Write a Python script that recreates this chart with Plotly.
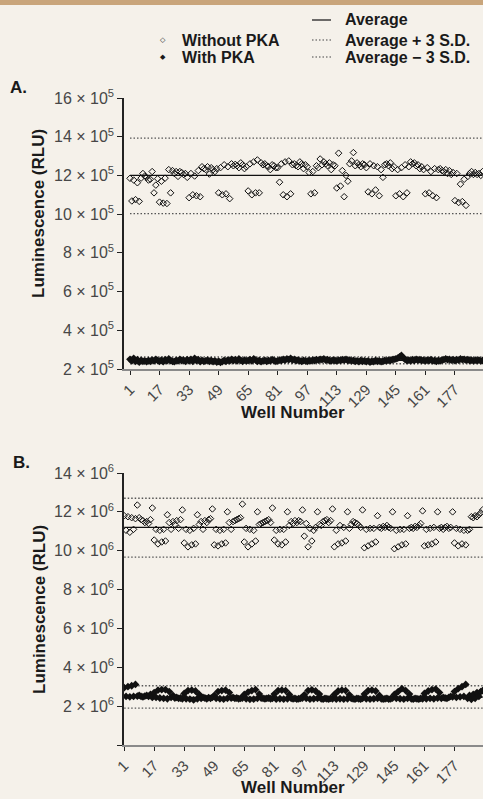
import plotly.graph_objects as go

W, H = 483, 799

# ---------------- data ----------------
wells = list(range(1, 193))
tick_wells = [1, 17, 33, 49, 65, 81, 97, 113, 129, 145, 161, 177]

# Panel A (units of 1e5 RLU)
a_without = [
    11.85, 10.68, 11.76, 10.75, 11.62, 10.66, 11.86, 12.10, 11.97, 11.90, 11.76, 11.80, 12.20, 11.10, 11.50, 11.83,
    10.62, 11.70, 10.57, 11.86, 10.55, 12.30, 11.10, 12.25, 12.10, 12.20, 11.95, 12.20, 12.15, 12.05, 12.10, 11.90,
    10.85, 12.10, 11.00, 11.97, 10.95, 12.25, 10.90, 12.45, 12.35, 12.30, 12.45, 12.07, 12.40, 12.30, 12.20, 12.35,
    11.10, 12.40, 11.00, 12.55, 11.05, 12.45, 10.80, 12.60, 12.50, 12.57, 12.50, 12.40, 12.65, 12.55, 12.35, 12.45,
    11.20, 12.60, 11.00, 12.70, 11.10, 12.80, 11.10, 12.65, 12.55, 12.60, 12.50, 12.45, 12.30, 12.55, 12.50, 12.40,
    12.40, 11.65, 12.60, 11.00, 12.70, 10.90, 12.75, 11.05, 12.55, 12.60, 12.50, 12.45, 12.70, 12.60, 12.35, 12.55,
    12.45, 12.15, 11.05, 12.20, 11.10, 12.50, 12.40, 12.85, 12.55, 12.70, 12.60, 12.50, 12.65, 12.30, 12.55, 12.50,
    11.35, 13.15, 11.45, 12.25, 10.90, 12.00, 11.70, 12.60, 12.75, 13.18, 12.50, 12.65, 12.55, 12.45, 12.60, 12.55,
    12.40, 11.15, 12.60, 11.05, 12.50, 11.25, 12.45, 10.95, 12.30, 11.90, 12.55, 12.60, 12.50, 12.65, 12.35, 12.45,
    10.95, 12.30, 11.05, 12.40, 10.90, 12.55, 11.10, 12.45, 12.70, 12.60, 12.65, 12.50, 12.55, 12.35, 12.45, 12.30,
    11.05, 12.40, 11.10, 12.20, 10.95, 12.35, 10.85, 12.30, 12.35, 12.25, 12.20, 12.30, 12.10, 12.25, 12.05, 12.15,
    10.70, 12.10, 10.60, 11.55, 10.65, 11.80, 10.45, 11.95, 12.10, 12.20, 12.05, 12.15, 12.05, 12.10, 12.00, 12.20,
]
a_with = [
    2.50, 2.42, 2.55, 2.40, 2.48, 2.36, 2.45, 2.40, 2.42, 2.38, 2.44, 2.40, 2.46, 2.42, 2.50, 2.44,
    2.40, 2.46, 2.38, 2.48, 2.42, 2.52, 2.44, 2.40, 2.38, 2.45, 2.42, 2.50, 2.44, 2.46, 2.40, 2.48,
    2.42, 2.50, 2.40, 2.55, 2.44, 2.48, 2.38, 2.45, 2.40, 2.42, 2.46, 2.40, 2.44, 2.38, 2.42, 2.36,
    2.40, 2.34, 2.38, 2.44, 2.40, 2.46, 2.42, 2.50, 2.44, 2.48, 2.42, 2.52, 2.45, 2.40, 2.46, 2.42,
    2.44, 2.48, 2.42, 2.52, 2.46, 2.40, 2.44, 2.38, 2.42, 2.45, 2.40, 2.44, 2.42, 2.48, 2.44, 2.40,
    2.42, 2.46, 2.44, 2.50, 2.46, 2.52, 2.48, 2.55, 2.46, 2.50, 2.44, 2.46, 2.42, 2.40, 2.44, 2.42,
    2.40, 2.44, 2.42, 2.46, 2.44, 2.48, 2.46, 2.50, 2.48, 2.52, 2.46, 2.48, 2.44, 2.42, 2.46, 2.44,
    2.42, 2.46, 2.44, 2.48, 2.46, 2.50, 2.44, 2.46, 2.42, 2.44, 2.40, 2.42, 2.38, 2.44, 2.40, 2.42,
    2.38, 2.42, 2.36, 2.40, 2.38, 2.44, 2.40, 2.42, 2.38, 2.40, 2.44, 2.42, 2.46, 2.44, 2.48, 2.50,
    2.52, 2.56, 2.62, 2.70, 2.58, 2.50, 2.44, 2.46, 2.42, 2.48, 2.44, 2.50, 2.46, 2.48, 2.44, 2.46,
    2.42, 2.46, 2.44, 2.48, 2.42, 2.44, 2.40, 2.44, 2.42, 2.46, 2.48, 2.52, 2.48, 2.50, 2.46, 2.48,
    2.44, 2.48, 2.46, 2.52, 2.48, 2.50, 2.46, 2.48, 2.44, 2.46, 2.42, 2.46, 2.44, 2.46, 2.42, 2.44,
]
a_without_stats = [12.0, 13.93, 10.03]   # average, +3 SD, -3 SD
a_with_stats = [2.45, 2.63, 2.27]

# Panel B (units of 1e6 RLU)
b_without = [
    11.80, 11.05, 11.75, 10.95, 11.70, 11.10, 11.65, 12.35, 11.70, 11.60, 11.55, 11.45, 11.50, 11.40, 11.60, 12.20,
    10.55, 11.10, 10.35, 11.05, 10.45, 11.10, 10.50, 11.85, 11.45, 11.10, 11.50, 11.35, 11.55, 11.15, 11.60, 12.10,
    10.40, 11.10, 10.20, 11.05, 10.30, 11.15, 10.35, 11.85, 11.35, 11.50, 11.10, 11.55, 11.45, 11.60, 11.65, 12.15,
    10.30, 11.10, 10.25, 11.05, 10.35, 11.10, 10.40, 12.00, 11.45, 11.10, 11.50, 11.55, 11.60, 11.65, 11.70, 12.40,
    10.45, 11.15, 10.20, 11.10, 10.35, 11.05, 10.50, 12.00, 11.35, 11.40, 11.45, 11.50, 11.55, 11.60, 11.45, 12.20,
    10.55, 11.05, 10.35, 11.10, 10.30, 11.10, 10.45, 12.00, 11.30, 11.50, 11.40, 11.55, 11.45, 11.55, 11.50, 12.10,
    10.75, 11.40, 10.20, 11.15, 10.50, 11.05, 11.20, 12.00, 11.35, 11.30, 11.50, 11.55, 11.60, 11.45, 11.55, 12.15,
    10.20, 11.05, 10.35, 11.30, 10.40, 11.20, 10.50, 12.00, 11.15, 11.35, 11.50, 11.45, 11.40, 11.30, 11.20, 12.10,
    10.15, 11.10, 10.25, 11.15, 10.35, 11.15, 10.45, 11.80, 11.20, 11.15, 11.25, 11.20, 11.30, 11.20, 11.15, 12.00,
    10.10, 11.05, 10.20, 11.10, 10.30, 11.10, 10.35, 11.80, 11.15, 11.20, 11.15, 11.25, 11.20, 11.30, 11.40, 12.05,
    10.25, 11.10, 10.30, 11.15, 10.35, 11.20, 10.45, 12.00, 11.15, 11.20, 11.10, 11.20, 11.25, 11.15, 11.20, 12.00,
    10.40, 11.15, 10.25, 11.10, 10.35, 11.05, 10.30, 11.05, 11.10, 11.75, 11.70, 11.80, 11.75, 11.85, 11.95, 12.10,
]
b_with = [
    2.95, 2.50, 3.00, 2.48, 3.05, 2.50, 3.12, 2.52, 2.55, 2.50, 2.48, 2.52, 2.55, 2.50, 2.60, 2.45,
    2.70, 2.45, 2.82, 2.42, 2.85, 2.40, 2.85, 2.38, 2.75, 2.45, 2.55, 2.42, 2.45, 2.40, 2.42, 2.38,
    2.65, 2.38, 2.80, 2.36, 2.82, 2.32, 2.78, 2.38, 2.60, 2.40, 2.45, 2.42, 2.38, 2.44, 2.40, 2.45,
    2.55, 2.40, 2.75, 2.38, 2.80, 2.36, 2.82, 2.40, 2.70, 2.42, 2.45, 2.40, 2.42, 2.38, 2.40, 2.42,
    2.60, 2.38, 2.72, 2.35, 2.80, 2.36, 2.85, 2.40, 2.62, 2.42, 2.40, 2.38, 2.40, 2.42, 2.38, 2.40,
    2.62, 2.36, 2.80, 2.38, 2.82, 2.36, 2.80, 2.38, 2.60, 2.40, 2.38, 2.40, 2.36, 2.38, 2.40, 2.42,
    2.58, 2.40, 2.80, 2.36, 2.84, 2.38, 2.78, 2.40, 2.62, 2.38, 2.36, 2.40, 2.38, 2.36, 2.40, 2.38,
    2.60, 2.36, 2.78, 2.38, 2.82, 2.36, 2.80, 2.38, 2.58, 2.40, 2.38, 2.36, 2.40, 2.38, 2.36, 2.40,
    2.62, 2.38, 2.80, 2.36, 2.82, 2.38, 2.78, 2.40, 2.55, 2.38, 2.36, 2.38, 2.40, 2.36, 2.38, 2.42,
    2.60, 2.40, 2.75, 2.38, 2.90, 2.36, 2.80, 2.40, 2.62, 2.38, 2.36, 2.40, 2.38, 2.36, 2.40, 2.38,
    2.65, 2.38, 2.78, 2.40, 2.85, 2.38, 2.88, 2.42, 2.70, 2.40, 2.45, 2.42, 2.40, 2.45, 2.50, 2.48,
    2.75, 2.45, 2.90, 2.48, 3.00, 2.50, 3.12, 2.40, 2.55, 2.35, 2.60, 2.40, 2.70, 2.50, 2.75, 2.80,
]
b_without_stats = [11.2, 12.7, 9.67]
b_with_stats = [2.45, 3.05, 1.9]

a_ticks = [2, 4, 6, 8, 10, 12, 14, 16]
b_ticks = [0, 2, 4, 6, 8, 10, 12, 14]

# ---------------- styling helpers ----------------
BG = "#f5f1ea"
YTICKFONT = dict(family="Liberation Sans, Arial, sans-serif", size=16, color="#474747")
XTICKFONT = dict(family="Liberation Sans, Arial, sans-serif", size=15, color="#474747")
BOLDF = "Liberation Sans, Arial, sans-serif"
DOT = "1.5px,2px"


def px(x):
    return x / W


def py(y):
    return 1 - y / H


fig = go.Figure()


def add_panel(xa, ya, without, with_, s_without, s_with, scale):
    yw = [v * scale for v in without]
    yp = [v * scale for v in with_]
    for stats in (s_without, s_with):
        avg, hi, lo = [v * scale for v in stats]
        xs = [wells[0], wells[-1]]
        fig.add_trace(go.Scatter(x=xs, y=[hi, hi], mode="lines", xaxis=xa, yaxis=ya,
                                 line=dict(color="#555", width=1.3, dash=DOT), showlegend=False, hoverinfo="skip"))
        fig.add_trace(go.Scatter(x=xs, y=[lo, lo], mode="lines", xaxis=xa, yaxis=ya,
                                 line=dict(color="#555", width=1.3, dash=DOT), showlegend=False, hoverinfo="skip"))
        fig.add_trace(go.Scatter(x=xs, y=[avg, avg], mode="lines", xaxis=xa, yaxis=ya,
                                 line=dict(color="#111", width=1.3), showlegend=False, hoverinfo="skip"))
    fig.add_trace(go.Scatter(x=wells, y=yw, mode="markers", xaxis=xa, yaxis=ya, name="Without PKA",
                             marker=dict(symbol="diamond-open", size=5, color="#111", line=dict(width=1, color="#111")),
                             showlegend=False))
    fig.add_trace(go.Scatter(x=wells, y=yp, mode="markers", xaxis=xa, yaxis=ya, name="With PKA",
                             marker=dict(symbol="diamond", size=6, color="#111"),
                             showlegend=False))


add_panel("x", "y", a_without, a_with, a_without_stats, a_with_stats, 1e5)
add_panel("x2", "y2", b_without, b_with, b_without_stats, b_with_stats, 1e6)

xaxis_common = dict(
    tickmode="array", tickvals=tick_wells, ticktext=[str(t) for t in tick_wells],
    tickangle=-45, tickfont=XTICKFONT, ticks="outside", ticklen=4, tickcolor="#222", tickwidth=1,
    showline=True, linecolor="#8a8a8a", linewidth=2, showgrid=False, zeroline=False, automargin=False,
)
yaxis_common = dict(
    ticks="outside", ticklen=5, tickcolor="#222", tickwidth=1, tickfont=YTICKFONT,
    showline=True, linecolor="#222", linewidth=1.5, showgrid=False, zeroline=False, automargin=False,
)

fig.update_layout(
    width=W, height=H, autosize=False, paper_bgcolor=BG, plot_bgcolor=BG,
    margin=dict(l=0, r=0, t=0, b=0, pad=0, autoexpand=False), showlegend=False,
    xaxis=dict(domain=[px(124), 1], range=[-2.25, 192.2], anchor="y", **xaxis_common),
    yaxis=dict(domain=[py(369), py(98)], range=[2e5, 16e5], anchor="x",
               tickvals=[t * 1e5 for t in a_ticks],
               ticktext=[f"{t} × 10<sup>5</sup>" for t in a_ticks], **yaxis_common),
    xaxis2=dict(domain=[px(124), 1], range=[0.9, 192.2], anchor="y2", **xaxis_common),
    yaxis2=dict(domain=[py(745), py(473)], range=[0, 14e6], anchor="x2",
                tickvals=[t * 1e6 for t in b_ticks],
                ticktext=["" if t == 0 else f"{t} × 10<sup>6</sup>" for t in b_ticks], **yaxis_common),
)

shapes = [
    dict(type="rect", xref="paper", yref="paper", x0=0, x1=1, y0=py(5), y1=1,
         fillcolor="#c9a57b", line=dict(width=0), layer="below"),
    dict(type="line", xref="paper", yref="paper", x0=px(312), x1=px(331), y0=py(20), y1=py(20),
         line=dict(color="#111", width=1.2)),
    dict(type="line", xref="paper", yref="paper", x0=px(312), x1=px(331), y0=py(40), y1=py(40),
         line=dict(color="#444", width=1.2, dash=DOT)),
    dict(type="line", xref="paper", yref="paper", x0=px(312), x1=px(331), y0=py(57), y1=py(57),
         line=dict(color="#444", width=1.2, dash=DOT)),
]
fig.update_layout(shapes=shapes)


def ann(text, x, y, size=16, xanchor="left", angle=0, color="#1a1a1a", family=BOLDF, bold=True):
    t = f"<b>{text}</b>" if bold else text
    fig.add_annotation(text=t, x=px(x), y=py(y), xref="paper", yref="paper", showarrow=False,
                       xanchor=xanchor, yanchor="middle", textangle=angle, borderpad=0,
                       font=dict(family=family, size=size, color=color))


# legend
ann("◇", 163, 40, size=7, xanchor="center", bold=False, family="DejaVu Sans")
ann("◆", 163, 57, size=7, xanchor="center", bold=False, family="DejaVu Sans")
ann("Without PKA", 181, 40, size=16)
ann("With PKA", 181, 57, size=16)
ann("Average", 344, 20)
ann("Average + 3 S.D.", 344, 40)
ann("Average − 3 S.D.", 344, 57)

# panel labels
ann("A.", 9, 88, size=17)
ann("B.", 12, 462, size=17)

# axis titles
ann("Luminescence (RLU)", 39, 214, size=17, xanchor="center", angle=-90)
ann("Luminescence (RLU)", 39, 610, size=17, xanchor="center", angle=-90)
ann("Well Number", 293, 412, size=17, xanchor="center")
ann("Well Number", 293, 787, size=17, xanchor="center")

fig.write_html(
    "out.html",
    config={"displayModeBar": False, "responsive": False},
    post_script=(
        "document.head.insertAdjacentHTML('beforeend',"
        "'<style>html,body{margin:0!important;padding:0!important;overflow:hidden!important;}</style>');"
        "window.scrollTo(0,0);"
    ),
)
